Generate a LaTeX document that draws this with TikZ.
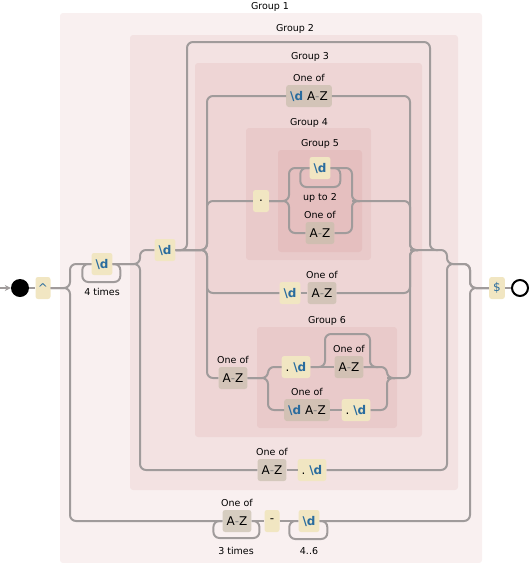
\documentclass[tikz,border=0pt]{standalone}
\usepackage{fontspec}
\setmainfont{DejaVu Sans}
\usetikzlibrary{calc,arrows.meta}
\definecolor{railc}{RGB}{160,155,155}
\definecolor{litc}{RGB}{241,230,194}
\definecolor{clsc}{RGB}{200,190,172}
\definecolor{grpc}{RGB}{185,85,85}
\definecolor{escc}{RGB}{42,108,158}
\newcommand{\dg}{\textcolor{escc}{\textbf{\textbackslash d}}}
\newcommand{\az}{A\textcolor{gray}{-}Z}

\begin{document}
\begin{tikzpicture}[x=1pt,y=-1pt]
                \useasboundingbox (0,0) rectangle (530,563);
                \begin{scope}[every path/.style={fill=grpc,fill opacity=0.09,rounded corners=3pt}]
                        \fill (60,13) rectangle (482,563);
                        \fill (130,35) rectangle (458,490);
                        \fill (195,63) rectangle (422,437);
                        \fill (246,128) rectangle (371,260);
                        \fill (278,150) rectangle (362,252);
                        \fill (257,327) rectangle (397,428);
                \end{scope}
                \begin{scope}[every node/.style={font=\fontsize{9.5}{11}\selectfont,inner sep=0}]
                        \node (G1) at (270,7) {Group 1};
                        \node (G2) at (295,29) {Group 2};
                        \node (G3) at (310,57) {Group 3};
                        \node (G4) at (309,123) {Group 4};
                        \node (G5) at (320,144) {Group 5};
                        \node (G6) at (327,321) {Group 6};

                        \node (T4) at (102,292) {4 times};
                        \node (T2) at (320,198) {up to 2};
                        \node (T3) at (236,551) {3 times};
                        \node (T46) at (309,551) {4..6};
                \end{scope}
                \begin{scope}[every node/.style={minimum height=22,inner xsep=4,inner ysep=0,rounded corners=2.5pt,font=\fontsize{12}{14}\selectfont},
                        lit/.style={fill=litc},
                        cls/.style={fill=clsc,fill opacity=0.7,text opacity=1,label={[font=\fontsize{9.5}{11}\selectfont,fill=none,minimum height=0,inner sep=2.5pt]above:One of}}]
                        \node[circle,fill=black,minimum size=18,inner sep=0] (start) at (20,288) {};
                        \node[circle,draw=black,line width=2,fill=white,minimum size=16,inner sep=0] (finish) at (520,288) {};
                        \coordinate (in) at (0,288);

                        \node[lit,minimum width=15,inner xsep=2] (caret) at (43,288) {\textcolor{escc}{\^{}}};
                        \node[lit] (d4) at (102,264) {\dg};
                        \node[lit] (d1) at (165,250) {\dg};
                        \node[cls] (c3a) at (309,96) {\dg\ \az};
                        \node[lit,minimum width=16] (dot4) at (261,201) {.};
                        \node[lit] (g5d) at (320,168) {\dg};
                        \node[cls] (c5) at (320,233) {\az};
                        \node[lit,minimum width=20] (d3) at (290,293) {\dg};
                        \node[cls] (c3c) at (322,293) {\az};
                        \node[cls] (c3d) at (233,378) {\az};
                        \node[lit] (dd6) at (296,367) {.\ \dg};
                        \node[cls] (c6a) at (349,367) {\az};
                        \node[cls] (c6b) at (307,410) {\dg\ \az};
                        \node[lit] (dd6b) at (356,410) {.\ \dg};
                        \node[cls] (c2) at (272,470) {\az};
                        \node[lit] (dot2) at (312,470) {.\ \dg};
                        \node[cls] (c1) at (237,521) {\az};
                        \node[lit,minimum width=15] (dash) at (272,521) {-};
                        \node[lit] (d6) at (309,521) {\dg};
                        \node[lit,minimum width=15] (dollar) at (497,288) {\textcolor{escc}{\$}};

                        \coordinate (r1) at (70,288);
                        \coordinate (r2) at (140,264);
                        \coordinate (r3) at (207,250);
                        \coordinate (sk) at (187,42);
                        \coordinate (skr) at (430,250);
                        \coordinate (r3e) at (410,250);
                        \coordinate (r2e) at (447,264);
                        \coordinate (r1e) at (470,288);
                        \coordinate (r5) at (289,201);
                        \coordinate (r5e) at (352,201);
                        \coordinate (r6) at (268,378);
                        \coordinate (r6e) at (387,378);
                        \coordinate (q6a) at (325,334);
                        \coordinate (q6b) at (370,367);
                \end{scope}
                \begin{scope}[every path/.style={draw=railc,line width=2,rounded corners=6pt}]
                        \draw[-{Stealth[length=6pt,width=6pt]},rounded corners=0pt] (in) -- (start);
                        \draw (start) -- (caret);
                        \draw (caret.east) -- (r1) |- (d4.west);
                        \draw (caret.east) -- (r1) |- (c1.west);
                        \draw (d4.west) -- ++(-9,0) -- ++(0,18) -- ++(38,0) -- ++(0,-18) -- (d4.east);
                        \draw (d4.east) -- (r2) |- (d1.west);
                        \draw (d4.east) -- (r2) |- (c2.west);
                        \draw (c2.east) -- (dot2.west);
                        \draw (dot2.east) -| (r2e) -- (r1e |- r2e) |- (dollar.west);

                        \draw (c1.west) -- ++(-9,0) -- ++(0,17) -- ++(46,0) -- ++(0,-17) -- (c1.east);
                        \draw (c1.east) -- (dash.west);
                        \draw (dash.east) -- (d6.west);
                        \draw (d6.west) -- ++(-9,0) -- ++(0,18) -- ++(38,0) -- ++(0,-18) -- (d6.east);
                        \draw (d6.east) -| (r1e) -- (dollar.west);
                        \draw (dollar) -- (finish);

                        \draw (d1.east) -| (sk) -| (skr) -- ++(8,0);
                        \draw (r3e) -| (r2e) -- (r1e |- r2e) |- (dollar.west);

                        \draw (d1.east) -- (r3) |- (c3a.west);
                        \draw (d1.east) -- (r3) |- (dot4.west);
                        \draw (d1.east) -- (r3) |- (d3.west);
                        \draw (d1.east) -- (r3) |- (c3d.west);
                        \draw (c3a.east) -| (r3e) -- ++(8,0);
                        \draw (r5e) -| (r3e) -- ++(8,0);
                        \draw (d3.east) -- (c3c.west);
                        \draw (c3c.east) -| (r3e) -- ++(8,0);
                        \draw (r6e) -| (r3e) -- ++(8,0);

                        \draw (dot4.east) -- (r5) |- (g5d.west);
                        \draw (dot4.east) -- (r5) |- (c5.west);
                        \draw (g5d.west) -- ++(-9,0) -- ++(0,19) -- ++(40,0) -- ++(0,-19) -- (g5d.east);
                        \draw (g5d.east) -| (r5e) -- ++(8,0);
                        \draw (c5.east) -| (r5e) -- ++(8,0);

                        \draw (c3d.east) -- (r6) |- (dd6.west);
                        \draw (c3d.east) -- (r6) |- (c6b.west);
                        \draw (dd6.east) -- (c6a.west);
                        \draw (dd6.east) -| (q6a) -| (q6b) -- ++(8,0);
                        \draw (c6a.east) -| (r6e) -- ++(8,0);
                        \draw (c6b.east) -- (dd6b.west);
                        \draw (dd6b.east) -| (r6e) -- ++(8,0);
                \end{scope}
        \end{tikzpicture}
\end{document}
